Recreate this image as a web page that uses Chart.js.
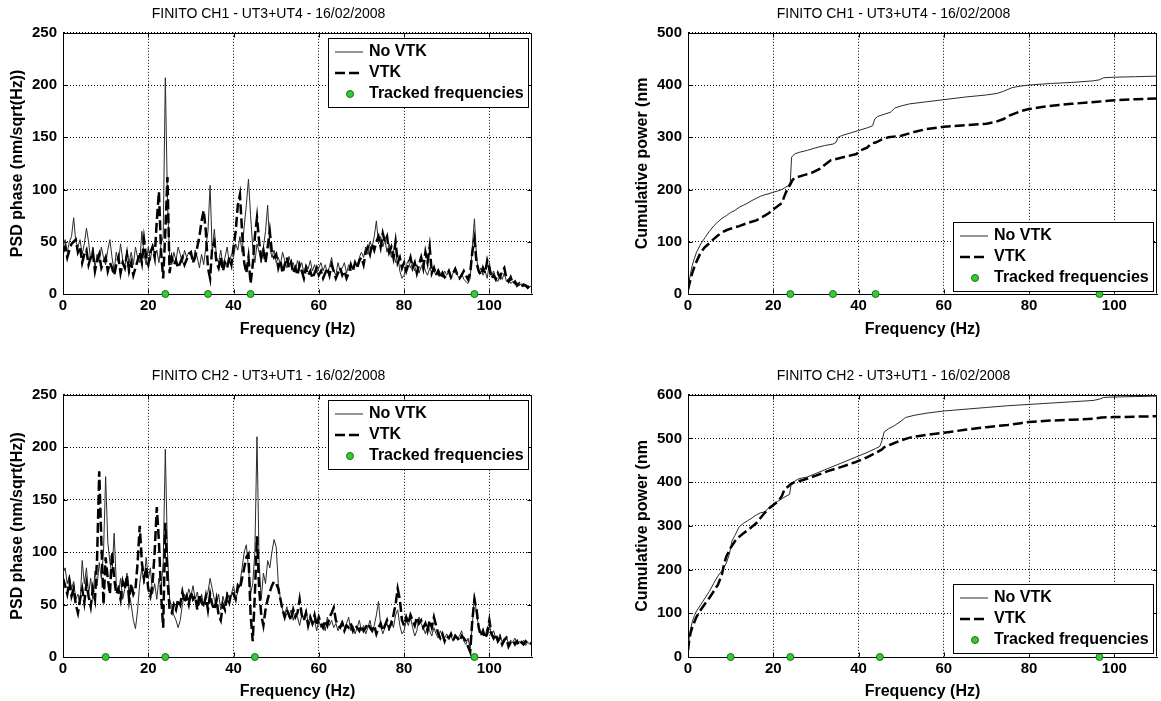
<!DOCTYPE html>
<html>
<head>
<meta charset="utf-8">
<title>FINITO VTK - 16/02/2008</title>
<script src="https://cdn.jsdelivr.net/npm/chart.js@4.4.1/dist/chart.umd.min.js"></script>
<style>
  html, body { margin: 0; padding: 0; background: #fff; overflow: hidden; width: 1161px; height: 701px; }
  .panel { position: absolute; }
  #panel1 { left: 0; top: 0; width: 537px; height: 340px; }
  #panel2 { left: 625px; top: 0; width: 537px; height: 340px; }
  #panel3 { left: 0; top: 362px; width: 537px; height: 339px; }
  #panel4 { left: 625px; top: 362px; width: 537px; height: 339px; }
</style>
</head>
<body>
<div class="panel" id="panel1"><canvas id="psdCh1"></canvas></div>
<div class="panel" id="panel2"><canvas id="cumCh1"></canvas></div>
<div class="panel" id="panel3"><canvas id="psdCh2"></canvas></div>
<div class="panel" id="panel4"><canvas id="cumCh2"></canvas></div>
<script>
// Frequency grid of the PSD curves (0 to 110 Hz, 0.5 Hz bins)
const freqHz = Array.from({ length: 221 }, (_, i) => i * 0.5);
const xTicks = [0, 20, 40, 60, 80, 100];

// PSD phase, CH1 (UT3+UT4), nm/sqrt(Hz), one line = 10 Hz
const psdCh1NoVtk = [
  45, 52, 40, 50, 55, 73, 50, 45, 52, 38, 48, 63, 50, 32, 45, 25, 38, 30, 45, 35,
  28, 42, 52, 35, 22, 40, 30, 48, 33, 25, 42, 30, 40, 28, 45, 35, 30, 60, 38, 28,
  45, 32, 48, 35, 42, 30, 48, 55, 207, 90, 35, 28, 40, 32, 45, 38, 30, 42, 35, 40,
  38, 30, 42, 35, 25, 38, 28, 45, 60, 104, 40, 62, 35, 30, 42, 28, 35, 45, 30, 38,
  35, 48, 42, 55, 40, 65, 85, 110, 75, 45, 30, 48, 40, 30, 45, 60, 85, 45, 35, 42,
  30, 35, 28, 40, 32, 25, 36, 28, 30, 22, 32, 25, 30, 20, 28, 24, 32, 22, 28, 20,
  25, 30, 22, 28, 20, 26, 35, 22, 18, 30, 22, 25, 30, 20, 28, 22, 25, 30, 26, 35,
  40, 35, 45, 38, 50, 45, 55, 70, 48, 55, 45, 52, 40, 48, 35, 42, 30, 38, 22, 15,
  18, 28, 32, 25, 30, 22, 28, 20, 26, 30, 22, 18, 25, 20, 22, 18, 24, 20, 16, 22,
  18, 22, 15, 20, 25, 18, 15, 20, 14, 12, 10, 15, 45, 72, 35, 20, 25, 18, 22, 15,
  30, 18, 22, 15, 12, 18, 14, 20, 12, 15, 10, 12, 9, 11, 8, 10, 7, 9, 8, 7,
  8
];
const psdCh1Vtk = [
  40, 45, 35, 42, 48, 50, 52, 40, 45, 30, 38, 42, 28, 35, 40, 22, 32, 38, 25, 30,
  35, 22, 30, 25, 18, 28, 35, 20, 30, 25, 38, 22, 30, 18, 25, 32, 40, 30, 52, 35,
  28, 40, 45, 35, 70, 98, 40, 15, 60, 112, 20, 35, 28, 32, 25, 30, 35, 28, 33, 38,
  40, 30, 35, 45, 55, 70, 80, 60, 25, 15, 45, 50, 30, 25, 35, 22, 30, 25, 35, 28,
  45, 60, 85, 95, 60, 30, 20, 35, 10, 28, 55, 73, 50, 35, 42, 30, 45, 60, 40, 35,
  38, 25, 32, 20, 28, 35, 25, 30, 20, 25, 18, 28, 22, 15, 25, 18, 22, 15, 20, 25,
  18, 22, 15, 20, 25, 18, 28, 22, 15, 20, 25, 18, 22, 15, 20, 28, 22, 30, 25, 32,
  35, 28, 40, 45, 38, 48, 42, 50, 55, 45, 58, 50, 55, 40, 45, 35, 50, 30, 35, 25,
  30, 22, 28, 35, 25, 30, 20, 28, 35, 25, 40, 30, 45, 20, 25, 18, 22, 15, 20, 16,
  18, 22, 16, 20, 24, 18, 15, 18, 22, 18, 14, 20, 40, 52, 30, 22, 18, 25, 20, 32,
  25, 15, 18, 14, 20, 16, 22, 25, 15, 12, 16, 10, 12, 8, 10, 7, 9, 8, 6, 8,
  7
];

// PSD phase, CH2 (UT3+UT1)
const psdCh2NoVtk = [
  80, 85, 70, 78, 65, 72, 55, 60, 50, 92, 70, 85, 60, 75, 55, 82, 68, 90, 75, 100,
  172, 110, 90, 80, 118, 70, 60, 75, 55, 65, 80, 60, 50, 35, 27, 45, 70, 85, 70, 95,
  75, 85, 60, 70, 55, 75, 65, 90, 198, 100, 55, 48, 40, 35, 28, 35, 50, 60, 55, 65,
  58, 68, 55, 62, 50, 60, 48, 55, 62, 75, 65, 55, 50, 60, 45, 58, 50, 62, 55, 60,
  68, 55, 62, 70, 85, 100, 107, 85, 60, 70, 100, 210, 90, 55, 80, 70, 92, 85, 100, 112,
  105, 70, 55, 45, 40, 48, 38, 45, 35, 42, 38, 30, 40, 35, 45, 32, 38, 30, 35, 25,
  35, 28, 32, 25, 38, 30, 35, 28, 32, 25, 30, 35, 28, 32, 38, 25, 30, 22, 28, 35,
  25, 30, 22, 28, 35, 25, 30, 40, 53, 30, 22, 28, 32, 25, 35, 28, 40, 45, 30, 22,
  25, 35, 30, 38, 28, 20, 25, 38, 32, 28, 22, 30, 25, 20, 28, 22, 18, 25, 20, 18,
  22, 18, 20, 15, 22, 18, 20, 25, 15, 12, 18, 8, 30, 60, 40, 30, 22, 25, 20, 28,
  32, 20, 25, 18, 15, 22, 14, 18, 20, 12, 16, 14, 18, 12, 15, 13, 16, 11, 14, 12,
  13
];
const psdCh2Vtk = [
  75, 68, 60, 72, 58, 65, 50, 42, 55, 65, 52, 70, 58, 48, 65, 55, 95, 177, 110, 50,
  95, 75, 60, 100, 75, 60, 65, 55, 72, 65, 78, 55, 70, 60, 65, 90, 125, 90, 75, 85,
  65, 58, 70, 100, 143, 110, 60, 28, 128, 75, 45, 42, 50, 45, 55, 50, 62, 52, 58, 50,
  62, 55, 58, 45, 60, 52, 48, 58, 45, 60, 50, 45, 55, 40, 35, 50, 45, 58, 52, 62,
  60, 55, 68, 65, 75, 85, 95, 98, 40, 15, 60, 115, 65, 40, 30, 45, 55, 62, 68, 72,
  70, 65, 55, 45, 38, 45, 40, 35, 45, 38, 42, 55, 40, 35, 42, 30, 38, 32, 40, 30,
  38, 32, 28, 35, 30, 38, 42, 47, 35, 30, 28, 32, 25, 30, 28, 32, 25, 30, 28, 25,
  30, 25, 28, 32, 28, 25, 30, 22, 28, 32, 25, 30, 35, 28, 32, 40, 50, 65, 55, 35,
  30, 38, 32, 40, 35, 30, 38, 32, 35, 28, 32, 25, 35, 28, 38, 30, 22, 18, 22, 15,
  20, 18, 22, 16, 20, 18, 15, 20, 18, 15, 10, 5, 35, 55, 45, 28, 20, 25, 18, 22,
  35, 22, 18, 22, 15, 18, 12, 16, 18, 10, 14, 16, 12, 15, 11, 14, 12, 15, 13, 12,
  14
];

// Cumulative power (nm), read at irregular frequencies
const cumCh1NoVtkHz = [0, 0.5, 1, 1.5, 2, 3, 4, 5, 6, 7, 8, 9, 10, 11, 12, 13, 14, 15, 16, 17, 18, 19, 20, 21, 22, 23, 23.5, 24, 24.3, 25, 26, 28, 30, 32, 34, 34.7, 35.2, 36, 38, 40, 42, 43.3, 43.8, 44.5, 46, 47.5, 48.5, 50, 52, 56, 60, 65, 70, 72.5, 74, 76, 78, 80, 85, 90, 95, 96.5, 97.5, 100, 105, 110];
const cumCh1NoVtk = [10, 35, 55, 68, 80, 96, 108, 120, 130, 138, 145, 150, 156, 160, 166, 170, 174, 179, 183, 187, 190, 192, 195, 197, 200, 205, 207, 215, 262, 268, 271, 275, 280, 284, 287, 290, 300, 303, 308, 313, 318, 322, 335, 340, 344, 348, 356, 360, 364, 368, 372, 377, 381, 384, 388, 395, 398, 400, 403, 405, 408, 410, 414, 415, 416, 417];
const cumCh1VtkHz = [0, 0.5, 1, 1.5, 2, 3, 4, 5, 6, 7, 8, 9, 10, 12, 14, 16, 18, 19, 20, 21, 22, 22.5, 23, 23.5, 24, 24.5, 25, 27, 29, 31, 32.5, 33.5, 35, 37, 39.5, 40.5, 42, 43, 44, 45.5, 47, 50, 53, 56, 60, 65, 70, 72, 74, 75.5, 78, 80, 83, 87, 90, 96, 100, 105, 110];
const cumCh1Vtk = [8, 25, 40, 52, 62, 80, 90, 97, 105, 112, 118, 122, 125, 130, 136, 141, 150, 155, 162, 168, 174, 185, 195, 203, 210, 218, 222, 227, 232, 240, 250, 256, 259, 263, 268, 275, 280, 288, 290, 296, 300, 303, 310, 316, 320, 323, 326, 329, 335, 342, 350, 354, 358, 362, 364, 368, 371, 373, 374];

const cumCh2NoVtkHz = [0, 0.3, 0.6, 1, 1.5, 2, 3, 4, 5, 6, 7, 8, 9, 9.7, 10.3, 11, 12, 13, 14, 15, 16, 17, 18, 19, 20, 21, 22, 23, 23.8, 24.2, 25, 26, 28, 30, 32, 34, 36, 38, 40, 42, 44, 45, 45.5, 46, 47, 48.5, 50, 51, 53, 56, 60, 65, 70, 75, 80, 85, 90, 95, 96.5, 97.5, 100, 105, 110];
const cumCh2NoVtk = [15, 45, 65, 80, 95, 105, 120, 135, 150, 168, 185, 198, 215, 235, 265, 278, 298, 306, 312, 318, 325, 330, 332, 342, 350, 356, 362, 368, 372, 395, 402, 408, 412, 420, 428, 436, 444, 452, 460, 468, 477, 482, 495, 515, 522, 530, 540, 548, 553, 558, 563, 567, 571, 575, 578, 581, 584, 587, 590, 594, 595, 596, 597];
const cumCh2VtkHz = [0, 0.3, 0.6, 1, 1.5, 2, 3, 4, 5, 6, 7, 8, 8.5, 9, 10, 11, 12, 13, 14, 15, 16, 17, 18, 19, 20, 21, 22, 22.7, 23.5, 24, 25, 27, 30, 33, 36, 39, 42, 44, 45.5, 46, 48, 50, 52, 55, 60, 65, 70, 75, 78, 80, 85, 90, 95, 97, 100, 105, 110];
const cumCh2Vtk = [15, 40, 55, 68, 80, 92, 108, 122, 135, 150, 165, 190, 215, 230, 250, 265, 275, 283, 290, 298, 306, 318, 330, 340, 348, 355, 368, 385, 390, 395, 400, 405, 415, 426, 435, 445, 457, 467, 475, 480, 488, 496, 502, 507, 513, 520, 526, 531, 535, 538, 541, 543, 545, 548, 549, 550, 551];

// Tracked (VTK) frequencies, Hz
const trackedCh1 = [24, 34, 44, 96.5];
const trackedCh2 = [10, 24, 45, 96.5];

const fontFamily = "'Liberation Sans', Arial, Helvetica, sans-serif";

const toPoints = (xs, ys) => xs.map((x, i) => ({ x, y: ys[i] }));

// Box around the axes plus small inward tick marks (matlab look)
const framePlugin = {
  id: "frame",
  beforeDatasetsDraw(chart) {
    const { ctx, chartArea: a, scales } = chart;
    const L = Math.round(a.left) + 0.5, R = Math.round(a.right) - 0.5;
    const T = Math.round(a.top) + 0.5, B = Math.round(a.bottom) - 0.5;
    ctx.save();
    ctx.strokeStyle = "#000";
    ctx.lineWidth = 1;
    ctx.beginPath();
    ctx.moveTo(L, T); ctx.lineTo(R, T); ctx.lineTo(R, B);
    scales.x.ticks.forEach(t => {
      const px = Math.round(scales.x.getPixelForValue(t.value)) + 0.5;
      ctx.moveTo(px, T); ctx.lineTo(px, T + 4);
      ctx.moveTo(px, B); ctx.lineTo(px, B - 4);
    });
    scales.y.ticks.forEach(t => {
      const py = Math.round(scales.y.getPixelForValue(t.value)) + 0.5;
      ctx.moveTo(L, py); ctx.lineTo(L + 4, py);
      ctx.moveTo(R, py); ctx.lineTo(R - 4, py);
    });
    ctx.stroke();
    ctx.restore();
  }
};

// Legend drawn in a bordered box inside the plot area
const boxLegendPlugin = {
  id: "boxLegend",
  afterDraw(chart, args, opts) {
    const { ctx, chartArea: a } = chart;
    const w = opts.width, h = opts.height;
    const x = Math.round(a.right - opts.right - w);
    const y = Math.round(opts.corner === "top" ? a.top + opts.offset : a.bottom - opts.offset - h);
    ctx.save();
    ctx.fillStyle = "#fff";
    ctx.fillRect(x, y, w, h);
    ctx.strokeStyle = "#000";
    ctx.lineWidth = 1;
    ctx.strokeRect(x + 0.5, y + 0.5, w, h);
    ctx.beginPath();
    ctx.rect(x + 1, y + 1, w - 1, h - 1);
    ctx.clip();
    ctx.font = `bold ${opts.fontSize}px ${fontFamily}`;
    ctx.textBaseline = "middle";
    ctx.fillStyle = "#000";
    chart.data.datasets.forEach((ds, i) => {
      const ry = y + opts.rows[i];
      if (ds.showLine === false) {
        ctx.beginPath();
        ctx.arc(x + 22, ry, ds.pointRadius, 0, Math.PI * 2);
        ctx.fillStyle = ds.pointBackgroundColor;
        ctx.fill();
        ctx.lineWidth = ds.pointBorderWidth;
        ctx.strokeStyle = ds.pointBorderColor;
        ctx.stroke();
      } else {
        ctx.beginPath();
        ctx.setLineDash(ds.borderDash || []);
        ctx.lineWidth = ds.borderWidth;
        ctx.strokeStyle = ds.borderColor;
        ctx.moveTo(x + 7, ry);
        ctx.lineTo(x + 35, ry);
        ctx.stroke();
        ctx.setLineDash([]);
      }
      ctx.fillStyle = "#000";
      ctx.fillText(ds.label, x + 41, ry);
    });
    ctx.restore();
  }
};

function buildDatasets(noVtkPts, vtkPts, tracked) {
  return [
    { label: "No VTK", data: noVtkPts, borderColor: "#2b2b2b", borderWidth: 1, order: 3 },
    { label: "VTK", data: vtkPts, borderColor: "#000", borderWidth: 2.5, borderDash: [10, 4], order: 2 },
    {
      label: "Tracked frequencies",
      data: tracked.map(f => ({ x: f, y: 0 })),
      showLine: false,
      pointRadius: 3.5,
      pointBackgroundColor: "#33cc33",
      pointBorderColor: "#1d6e1d",
      pointBorderWidth: 1,
      clip: false,
      order: 1
    }
  ];
}

function buildOptions(p) {
  return {
    responsive: true,
    maintainAspectRatio: false,
    animation: false,
    events: [],
    layout: { padding: 0 },
    elements: { point: { radius: 0 }, line: { tension: 0 } },
    plugins: {
      legend: { display: false },
      tooltip: { enabled: false },
      title: {
        display: true,
        text: p.title,
        color: "#000",
        font: { family: fontFamily, size: 14, weight: "normal" },
        padding: { top: 6, bottom: 10 }
      },
      boxLegend: {
        corner: p.legendCorner,
        right: 4,
        offset: p.legendOffset,
        width: 200,
        height: 69,
        rows: [14, 35, 56],
        fontSize: 16
      }
    },
    scales: {
      x: {
        type: "linear",
        min: 0,
        max: 110,
        afterBuildTicks: scale => { scale.ticks = xTicks.map(v => ({ value: v })); },
        ticks: {
          color: "#000",
          font: { family: fontFamily, size: 15, weight: "bold" },
          padding: 3,
          maxRotation: 0,
          autoSkip: false
        },
        grid: { color: "#000", lineWidth: 1, drawTicks: false },
        border: { display: true, color: "#000", width: 1, dash: [1, 2] },
        title: {
          display: true,
          text: "Frequency (Hz)",
          color: "#000",
          font: { family: fontFamily, size: 16, weight: "bold" },
          padding: { top: 0, bottom: p.xTitlePad }
        },
        afterFit: scale => { scale.height = p.xHeight; }
      },
      y: {
        min: 0,
        max: p.yMax,
        ticks: {
          stepSize: p.yStep,
          color: "#000",
          font: { family: fontFamily, size: 15, weight: "bold" },
          padding: 6
        },
        grid: { color: "#000", lineWidth: 1, drawTicks: false },
        border: { display: true, color: "#000", width: 1, dash: [1, 2] },
        title: {
          display: true,
          text: p.yTitle,
          color: "#000",
          font: { family: fontFamily, size: 16, weight: "bold" },
          padding: { top: 8, bottom: 0 }
        },
        afterFit: scale => { scale.width = 63; }
      }
    }
  };
}

function renderPanel(canvasId, datasets, p) {
  return new Chart(document.getElementById(canvasId), {
    type: "line",
    data: { datasets },
    options: buildOptions(p),
    plugins: [framePlugin, boxLegendPlugin]
  });
}

document.addEventListener("DOMContentLoaded", () => {
  const titleCh1 = "FINITO CH1 - UT3+UT4 - 16/02/2008";
  const titleCh2 = "FINITO CH2 - UT3+UT1 - 16/02/2008";

  renderPanel("psdCh1",
    buildDatasets(toPoints(freqHz, psdCh1NoVtk), toPoints(freqHz, psdCh1Vtk), trackedCh1),
    { title: titleCh1, yTitle: "PSD phase (nm/sqrt(Hz))", yMax: 250, yStep: 50,
      legendCorner: "top", legendOffset: 5, xHeight: 46, xTitlePad: 1 });

  renderPanel("cumCh1",
    buildDatasets(toPoints(cumCh1NoVtkHz, cumCh1NoVtk), toPoints(cumCh1VtkHz, cumCh1Vtk), trackedCh1),
    { title: titleCh1, yTitle: "Cumulative power (nm", yMax: 500, yStep: 100,
      legendCorner: "bottom", legendOffset: 3, xHeight: 46, xTitlePad: 1 });

  renderPanel("psdCh2",
    buildDatasets(toPoints(freqHz, psdCh2NoVtk), toPoints(freqHz, psdCh2Vtk), trackedCh2),
    { title: titleCh2, yTitle: "PSD phase (nm/sqrt(Hz))", yMax: 250, yStep: 50,
      legendCorner: "top", legendOffset: 5, xHeight: 44, xTitlePad: 0 });

  renderPanel("cumCh2",
    buildDatasets(toPoints(cumCh2NoVtkHz, cumCh2NoVtk), toPoints(cumCh2VtkHz, cumCh2Vtk), trackedCh2),
    { title: titleCh2, yTitle: "Cumulative power (nm", yMax: 600, yStep: 100,
      legendCorner: "bottom", legendOffset: 4, xHeight: 44, xTitlePad: 0 });
});
</script>
</body>
</html>
